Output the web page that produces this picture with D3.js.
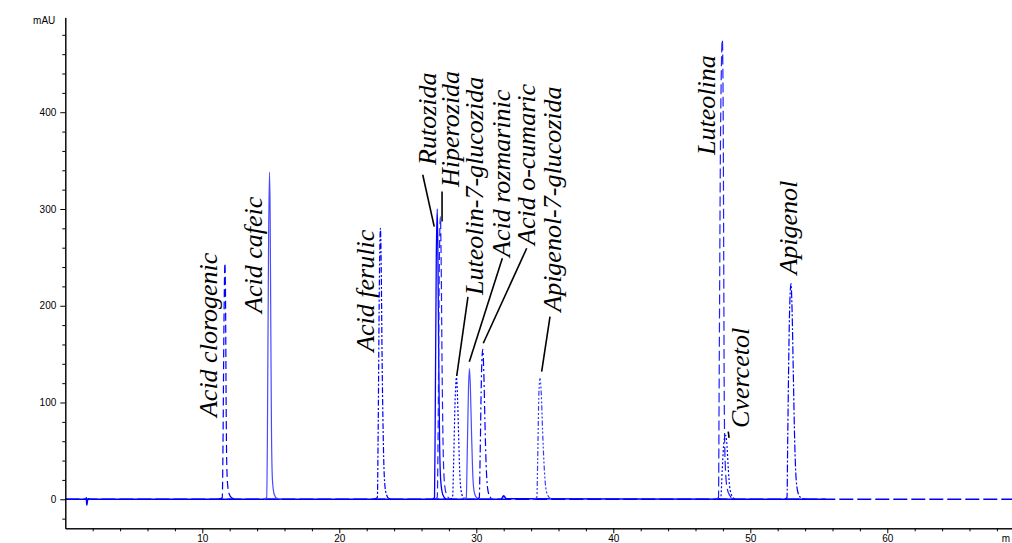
<!DOCTYPE html>
<html><head><meta charset="utf-8">
<script src="https://cdn.jsdelivr.net/npm/d3@7"></script>
<style>html,body{margin:0;padding:0;background:#fff;overflow:hidden}</style>
</head><body>
<svg id="chart" width="1012" height="543"></svg>
<script>
// ---- data (time in min, absorbance in mAU) ----
const xMajorTicks = [10, 20, 30, 40, 50, 60];
const xMinorTicks = [2,4,6,8,12,14,16,18,22,24,26,28,32,34,36,38,42,44,46,48,52,54,56,58,62,64,66,68];
const yMajorTicks = [0, 100, 200, 300, 400];
const yMinorTicks = [-20,20,40,60,80,120,140,160,180,220,240,260,280,320,340,360,380,420,440,460,480];

const baselineSolid = [[0,0],[1.5,0],[1.54,1.5],[1.57,-6],[1.62,-1],[1.7,0.5],[1.8,0],[31.8,0],[32.0,3.5],[32.2,0.5],[55.5,0]];
const baselineDashed = [[0,0],[70,0]];

const clorogenic = [[11.2,0],[11.46,2],[11.5,40],[11.58,180],[11.65,244],[11.7,200],[11.74,100],[11.78,40],[11.85,15],[11.95,6],[12.15,1.5],[12.5,0]];
const cafeic = [[14.5,0],[14.7,2],[14.75,60],[14.83,250],[14.9,338],[14.95,300],[15.0,180],[15.05,70],[15.12,20],[15.25,5],[15.45,1],[15.8,0]];
const ferulic = [[22.5,0],[22.78,2],[22.83,60],[22.93,230],[23.0,280],[23.06,240],[23.12,150],[23.2,70],[23.28,25],[23.4,7],[23.6,1],[23.9,0]];
const rutozida = [[26.8,0],[26.95,2],[27.0,80],[27.08,250],[27.15,300],[27.2,250],[27.26,140],[27.32,60],[27.4,20],[27.55,5],[27.8,0]];
const hiperozida = [[27.0,0],[27.15,2],[27.22,80],[27.3,240],[27.38,292],[27.44,240],[27.5,140],[27.57,60],[27.66,20],[27.8,6],[28.1,0]];
const luteolin7 = [[28.1,0],[28.27,2],[28.34,35],[28.46,105],[28.55,126],[28.63,105],[28.72,60],[28.8,25],[28.9,8],[29.05,2],[29.3,0]];
const rozmarinic = [[29.1,0],[29.27,2],[29.33,40],[29.43,115],[29.5,135],[29.57,115],[29.65,70],[29.73,30],[29.82,10],[29.95,3],[30.2,0]];
const ocumaric = [[30.05,0],[30.22,2],[30.28,45],[30.38,130],[30.47,155],[30.55,130],[30.63,80],[30.72,35],[30.82,12],[30.95,4],[31.2,0]];
const apigenol7 = [[34.2,0],[34.42,2],[34.48,40],[34.57,110],[34.65,125],[34.74,110],[34.84,70],[34.95,35],[35.07,12],[35.22,4],[35.5,0]];
const luteolina = [[47.5,0],[47.68,2],[47.72,100],[47.83,380],[47.96,475],[48.02,400],[48.06,250],[48.1,100],[48.16,40],[48.3,12],[48.5,4],[48.8,0]];
const cvercetol = [[47.7,0],[47.85,2],[47.95,30],[48.08,60],[48.2,66],[48.3,55],[48.4,30],[48.5,12],[48.65,4],[48.9,0]];
const apigenol = [[52.5,0],[52.68,2],[52.73,60],[52.86,190],[52.97,223],[53.05,195],[53.14,130],[53.24,60],[53.35,20],[53.5,6],[53.75,1],[54.1,0]];

// labels: text, anchor time, anchor mAU (bottom of rotated text, on its baseline)
const labelNames = ["Acid clorogenic","Acid cafeic","Acid ferulic","Rutozida","Hiperozida","Luteolin-7-glucozida","Acid rozmarinic","Acid o-cumaric","Apigenol-7-glucozida","Luteolina","Cvercetol","Apigenol"];
const labelTime = [11.07, 14.36, 22.53, 27.06, 28.74, 30.49, 32.46, 34.28, 36.18, 47.42, 49.9, 53.4];
const labelValue = [85, 192.6, 152.4, 345.5, 322.8, 211.2, 250.4, 262.8, 193.8, 355.9, 73.7, 232.2];

// leader lines: [t1, v1, t2, v2]
const leaders = [
  [26.09, 335.4, 26.93, 281.8],
  [27.5, 318, 27.5, 287],
  [29.39, 209.1, 28.57, 127.4],
  [31.9, 249.1, 29.49, 142.2],
  [33.68, 259.4, 30.51, 161.2],
  [35.38, 188.7, 34.77, 131.9],
  [48.39, 69.9, 48.45, 63.4]
];

// ---- chart ----
const svg = d3.select("#chart");
const x = d3.scaleLinear().domain([0, 70]).range([65.3, 65.3 + 13.7 * 70]);
const y = d3.scaleLinear().domain([-30, 498]).range([528.3, 17.4]);

const line = d3.line().x(d => x(d[0])).y(d => y(d[1])).curve(d3.curveMonotoneX);

const traces = [
  {d: baselineDashed, c: "#0000ff", w: 1.6, dash: "14,4"},
  {d: baselineSolid, c: "#0000ff", w: 1.6, dash: null},
  {d: clorogenic, c: "#0000ff", w: 1.2, dash: "8,4"},
  {d: cafeic, c: "#4a4aff", w: 1.2, dash: null},
  {d: ferulic, c: "#0000ff", w: 1.2, dash: "6,2,2,2"},
  {d: rutozida, c: "#0000ff", w: 1.3, dash: null},
  {d: hiperozida, c: "#2020ff", w: 1.2, dash: "8,4"},
  {d: luteolin7, c: "#0000ff", w: 1.2, dash: "2,2"},
  {d: rozmarinic, c: "#4a4aff", w: 1.2, dash: null},
  {d: ocumaric, c: "#0000ff", w: 1.2, dash: "8,3,2,3"},
  {d: apigenol7, c: "#3a3aff", w: 1.2, dash: "5,2,2,2,2,2"},
  {d: luteolina, c: "#2020ff", w: 1.2, dash: "10,4"},
  {d: cvercetol, c: "#0000ff", w: 1.2, dash: "2,2"},
  {d: apigenol, c: "#0000ff", w: 1.2, dash: "8,2,2,2"}
];

svg.append("g").selectAll("path").data(traces).join("path")
  .attr("d", t => line(t.d))
  .attr("fill", "none")
  .attr("stroke", t => t.c)
  .attr("stroke-width", t => t.w)
  .attr("stroke-dasharray", t => t.dash);

// axes
const tickFont = "'Liberation Sans', Arial, sans-serif";
svg.append("g").attr("transform", `translate(${x(0)},0)`)
  .call(d3.axisLeft(y).tickValues(yMajorTicks).tickSize(5).tickPadding(4).tickSizeOuter(0));
svg.append("g").attr("transform", `translate(${x(0)},0)`)
  .call(d3.axisLeft(y).tickValues(yMinorTicks).tickSize(3).tickFormat("").tickSizeOuter(0));
svg.append("g").attr("transform", `translate(0,${y(-30)})`)
  .call(d3.axisBottom(x).tickValues(xMajorTicks).tickSize(5).tickPadding(2).tickSizeOuter(0));
svg.append("g").attr("transform", `translate(0,${y(-30)})`)
  .call(d3.axisBottom(x).tickValues(xMinorTicks).tickSize(3).tickFormat("").tickSizeOuter(0));
svg.selectAll(".tick text").attr("font-family", tickFont).attr("font-size", 10).attr("fill", "#000");
svg.selectAll(".domain").attr("stroke", "#000");
svg.selectAll(".tick line").attr("stroke", "#000");

svg.append("text").attr("x", x(0) - 10).attr("y", 24).attr("text-anchor", "end")
  .attr("font-family", tickFont).attr("font-size", 10).text("mAU");
svg.append("text").attr("x", 1010).attr("y", 542).attr("text-anchor", "end")
  .attr("font-family", tickFont).attr("font-size", 10).text("m");

// leader lines
svg.append("g").selectAll("line").data(leaders).join("line")
  .attr("x1", d => x(d[0])).attr("y1", d => y(d[1]))
  .attr("x2", d => x(d[2])).attr("y2", d => y(d[3]))
  .attr("stroke", "#000").attr("stroke-width", 1.6);

// compound labels
svg.append("g").selectAll("text").data(labelNames).join("text")
  .attr("transform", (d, i) => `translate(${x(labelTime[i])},${y(labelValue[i])}) rotate(-90)`)
  .attr("font-family", "'Liberation Serif', 'Times New Roman', serif")
  .attr("font-style", "italic")
  .attr("font-size", 26)
  .attr("fill", "#000")
  .text(d => d);
</script>
</body></html>
